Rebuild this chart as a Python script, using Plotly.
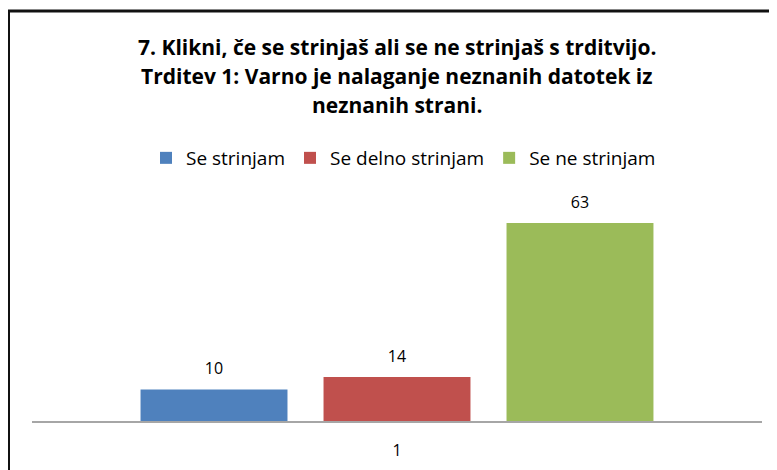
import plotly.graph_objects as go

categories = ["1"]
series_names = ["Se strinjam", "Se delno strinjam", "Se ne strinjam"]
series_values = [[10], [14], [63]]
series_colors = ["#4F81BD", "#C0504D", "#9BBB59"]
title_lines = [
    "7. Klikni, če se strinjaš ali se ne strinjaš s trditvijo.",
    "Trditev 1: Varno je nalaganje neznanih datotek iz",
    "neznanih strani.",
]

FONT = "Open Sans"
OFF = 8  # page body margin

# screenshot coords of plot area: x 32..762, y 201..421
W, H = 777 - OFF, 470 - OFF
L, T = 32 - OFF, 201 - OFF
R = W - (762 - OFF)
B = H - (421 - OFF)
pw, ph = W - L - R, H - T - B

def px(x):
    return (x - OFF - L) / pw

def py(y):
    return (H - B - (y - OFF)) / ph

fig = go.Figure()
for name, vals, col in zip(series_names, series_values, series_colors):
    fig.add_trace(go.Bar(
        x=categories, y=vals, name=name,
        marker=dict(color=col, line=dict(width=0)),
        text=[f"<span style='font-size:16px'>{v}</span><br> " for v in vals],
        textposition="outside",
        constraintext="none",
        textfont=dict(family=FONT, size=8, color="#000000"),
        cliponaxis=False,
    ))

annotations = []
for line, yy in zip(title_lines, [47, 76, 105]):
    annotations.append(dict(
        text=f"<b>{line}</b>", xref="paper", yref="paper",
        x=0.5, y=py(yy), xanchor="center", yanchor="middle",
        showarrow=False, font=dict(family=FONT, size=21, color="#000000"),
    ))

fig.update_layout(
    width=W, height=H,
    margin=dict(l=L, r=R, t=T, b=B, pad=0, autoexpand=False),
    paper_bgcolor="white", plot_bgcolor="white",
    barmode="group", bargap=0.248, bargroupgap=0.197,
    showlegend=True,
    legend=dict(
        orientation="h", x=px(146), y=py(158), xanchor="left", yanchor="middle",
        font=dict(family=FONT, size=19, color="#000000"),
        bgcolor="rgba(0,0,0,0)", borderwidth=0, traceorder="normal",
    ),
    annotations=annotations,
    xaxis=dict(
        type="category", showline=True, linecolor="#A6A6A6", linewidth=1.5,
        ticks="", showgrid=False, zeroline=False, ticklabelstandoff=14,
        automargin=False,
        tickfont=dict(family=FONT, size=16, color="#000000"),
    ),
    yaxis=dict(range=[0, 70], visible=False, showgrid=False, zeroline=False,
               automargin=False),
    font=dict(family=FONT),
    shapes=[dict(
        type="rect", xref="paper", yref="paper",
        x0=px(8.5), x1=px(800), y0=py(11), y1=py(500),
        line=dict(color="#111111", width=3), fillcolor="rgba(0,0,0,0)", layer="above",
    )],
)

fig.write_html("out.html")
